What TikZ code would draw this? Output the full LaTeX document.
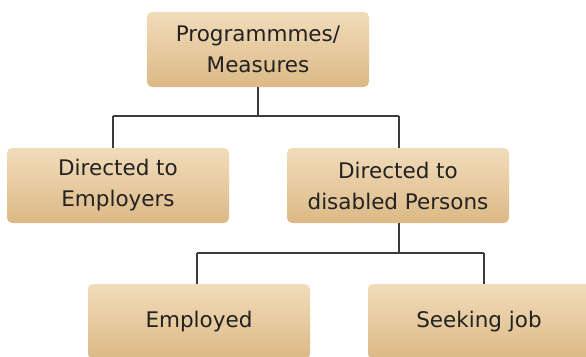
\documentclass[tikz,border=0pt]{standalone}
\usepackage{fontspec}
\setmainfont{DejaVu Sans}
\definecolor{boxtop}{RGB}{241,220,186}
\definecolor{boxbot}{RGB}{220,185,134}
\definecolor{txt}{RGB}{34,34,34}
\definecolor{ln}{RGB}{60,60,60}
\begin{document}
\begin{tikzpicture}[x=1pt,y=-1pt,
  box/.style={rounded corners=5pt, minimum width=222pt, minimum height=75pt,
    top color=boxtop, bottom color=boxbot, draw=none, text=txt, align=center,
    font=\fontsize{21.5}{31}\selectfont, inner sep=0pt},
  conn/.style={draw=ln, line width=1.3pt}]
\useasboundingbox (0,0) rectangle (586,356);
\node[box] (top) at (258,49.5) {Programmmes/\\Measures};
\node[box] (left) at (118,185.5) {Directed to\\Employers};
\node[box] (right) at (398,185.5) {Directed to\\disabled Persons};
\node[box] (bl) at (199,321.5) {Employed};
\node[box] (br) at (479,321.5) {Seeking job};
\coordinate (jl) at (113,116);
\coordinate (jr) at (399,116);
\coordinate (kl) at (197,253);
\coordinate (kr) at (484,253);
\draw[conn] (top.south) -- (top.south |- jl);
\draw[conn] (jl) -- (jr);
\draw[conn] (jl) -- (jl |- left.north);
\draw[conn] (jr) -- (jr |- right.north);
\draw[conn] (right.south -| jr) -- (jr |- kl);
\draw[conn] (kl) -- (kr);
\draw[conn] (kl) -- (kl |- bl.north);
\draw[conn] (kr) -- (kr |- br.north);
\end{tikzpicture}
\end{document}
